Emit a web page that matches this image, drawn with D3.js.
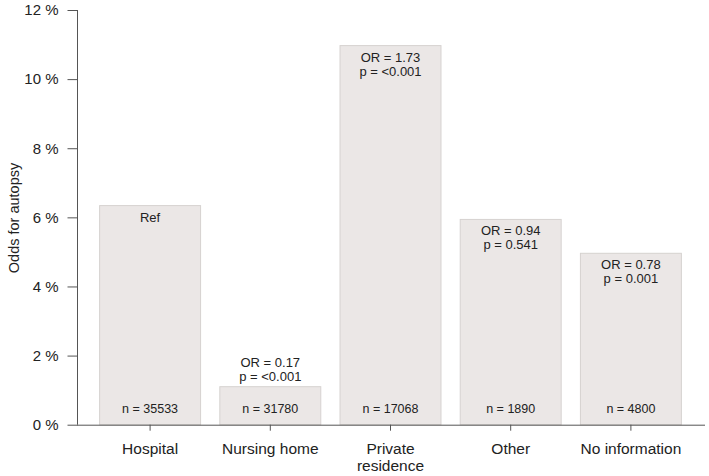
<!DOCTYPE html>
<html><head><meta charset="utf-8">
<script src="https://cdn.jsdelivr.net/npm/d3@7"></script>
<style>body{margin:0;background:#fff}svg{display:block;font-family:"Liberation Sans",Arial,sans-serif}</style>
</head><body><svg id="c" width="709" height="476"></svg>
<script>
const categories = ["Hospital", "Nursing home", "Private residence", "Other", "No information"];
const categoryLines = [["Hospital"], ["Nursing home"], ["Private", "residence"], ["Other"], ["No information"]];
const odds = [6.34, 1.10, 10.97, 5.94, 4.96];
const ns = ["n = 35533", "n = 31780", "n = 17068", "n = 1890", "n = 4800"];
const orLabels = [["Ref"], ["OR = 0.17", "p = <0.001"], ["OR = 1.73", "p = <0.001"], ["OR = 0.94", "p = 0.541"], ["OR = 0.78", "p = 0.001"]];
const yTicks = [0, 2, 4, 6, 8, 10, 12];

const svg = d3.select("#c");
const y = d3.scaleLinear().domain([0, 12]).range([424.7, 10]);
const x = d3.scaleBand().domain(categories).range([90, 691]).paddingInner(0.16).paddingOuter(0.08);

// bars
svg.selectAll("rect.bar").data(categories).enter().append("rect")
  .attr("x", d => x(d)).attr("width", x.bandwidth())
  .attr("y", (d, i) => y(odds[i])).attr("height", (d, i) => y(0) - y(odds[i]))
  .attr("fill", "#ebe7e6").attr("stroke", "#d6d2d0").attr("stroke-width", 1);

// y axis
const ya = svg.append("g").attr("transform", "translate(77.5,0)")
  .call(d3.axisLeft(y).tickValues(yTicks).tickFormat(d => d + " %").tickSize(10).tickPadding(9));
ya.select(".domain").attr("stroke", "#555").attr("d", `M0,${y(12)}V${y(0)}`);
ya.selectAll(".tick line").attr("stroke", "#555");
ya.selectAll(".tick text").attr("font-size", 15).attr("fill", "#222").attr("font-family", "Liberation Sans, Arial, sans-serif");

// x axis
const xa = svg.append("g").attr("transform", `translate(0,${y(0)})`)
  .call(d3.axisBottom(x).tickSize(6).tickFormat(""));
xa.select(".domain").attr("stroke", "#555").attr("d", "M77,0.5H705");
xa.selectAll(".tick line").attr("stroke", "#555");
xa.selectAll(".tick").each(function(d, i) {
  const t = d3.select(this).append("text").attr("fill", "#222").attr("font-size", 15.5)
    .attr("text-anchor", "middle").attr("font-family", "Liberation Sans, Arial, sans-serif");
  categoryLines[i].forEach((l, j) => t.append("tspan").attr("x", 0).attr("y", 29 + j * 17.5).text(l));
});

// n labels
svg.selectAll("text.n").data(categories).enter().append("text")
  .attr("x", d => x(d) + x.bandwidth() / 2).attr("y", y(0) - 12)
  .attr("text-anchor", "middle").attr("font-size", 12.5).attr("fill", "#222")
  .text((d, i) => ns[i]);

// OR labels
categories.forEach((d, i) => {
  const inside = y(0) - y(odds[i]) > 60;
  const top = inside ? y(odds[i]) + 16 : y(odds[i]) - 20;
  const t = svg.append("text").attr("text-anchor", "middle").attr("font-size", 13).attr("fill", "#222");
  orLabels[i].forEach((l, j) => t.append("tspan").attr("x", x(d) + x.bandwidth() / 2).attr("y", top + j * 14).text(l));
});

// y title
svg.append("text").attr("transform", "translate(19,218) rotate(-90)").attr("text-anchor", "middle")
  .attr("font-size", 14.5).attr("fill", "#222").text("Odds for autopsy");
</script></body></html>
